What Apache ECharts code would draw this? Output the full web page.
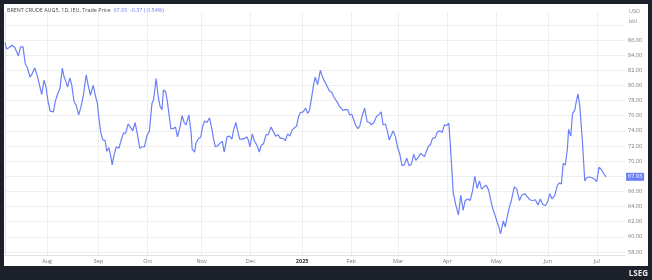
<!DOCTYPE html>
<html><head><meta charset="utf-8">
<script src="https://cdn.jsdelivr.net/npm/echarts@6/dist/echarts.min.js"></script>
<style>
html,body{margin:0;padding:0;background:#1c2029;}
#wrap{position:relative;width:652px;height:280px;background:#1c2029;overflow:hidden;}
#panel{position:absolute;left:4px;top:4px;width:644px;height:262px;background:#fff;}
#c{position:absolute;left:0;top:0;width:652px;height:280px;}
</style>
</head><body>
<div id="wrap"><div id="panel"></div><div id="c"></div></div>
<script>
// trading-day index (from first point) and settlement price, USD/bbl
const dayIdx = [0,0.7,1.8,3,4.2,5,5.7,6.7,7.7,8.7,9.5,10.7,11.7,12.7,13.7,14.7,15.7,16.7,17.5,18.4,19.3,20.1,20.7,21.5,22.4,23.5,24.5,25.2,26,26.8,27.7,28.5,29.5,30.5,31.5,32.5,33.5,34.7,35.5,36.5,37.7,38.6,39.5,40.1,41,41.8,42.8,43.5,44.4,45.1,45.8,46.6,47.6,48.7,49.5,50.6,51.6,52.6,53.6,54.6,55.6,56.6,57.6,58.6,59.6,60.8,61.7,
62.8,63.5,64.6,65.5,66.3,67.1,67.7,68.6,69.4,70.3,70.9,72,72.9,73.7,74.8,75.7,76.6,77.4,78.6,79.5,80,81,81.7,82.7,83.7,84.4,85.3,86.3,87.4,88.4,89.1,89.9,90.8,92,92.9,93.7,94.9,96,97,97.7,98.7,99.6,100.3,101.4,102.4,103.3,104,104.7,105.7,106.7,107.7,108.7,109.5,110.5,111.6,112.5,113.7,114.7,115.7,116.7,117.7,118.8,119.8,120.8,121.8,122.7,123.7,124.6,125.5,
126.2,127.4,128.5,129.4,130.2,131.1,131.9,132.6,133.6,134.8,135.6,136.5,137.7,138.6,139.6,140.5,141.3,142.2,142.8,143.6,144.5,145.4,146.5,147.3,148.2,149,149.8,150.8,151.6,152.6,153.7,154.8,155.8,156.7,157.8,158.8,159.7,160.8,161.6,162.6,163.5,164.2,165,165.9,166.9,167.9,168.7,169.7,170.7,171.7,172.7,173.7,174.7,175.6,176.6,177.6,178.4,179.3,180.1,181,
181.9,182.7,183.9,184.7,185.8,186.9,187.8,188.7,189.7,190.4,191.6,192.7,193.8,194.8,195.8,196.7,197.8,198.8,199.8,200.8,201.8,202.8,203.7,204.7,205.7,206.7,207.5,208.4,209.4,210.4,211.3,211.8,213,213.8,214.7,215.5,216.5,217.7,218.7,219.9,220.9,222.1,223.2,224.3,225.5,226.7,227.8,228.8,229.8,230.9,231.9,232.9,233.8,234.9,236.1,236.9,237.8,238.6,239.5,240.4,240.9,241.8,242.6,243.5,244.2,244.9,245.7,246.8,247.8,248.6,249.8,250.9,252,252.9,253.9,254.9,255.8,256.9];

const price = [85.7,84.8,85.0,85.3,85.0,84.8,83.9,85.1,85.1,82.8,82.4,81.1,81.6,82.3,81.4,80.1,78.8,80.7,79.8,77.9,76.6,76.4,76.5,77.9,78.8,79.6,82.3,81.2,80.5,79.8,81.0,80.1,77.9,77.3,76.1,77.2,78.7,81.4,80.1,78.7,80.0,78.7,77.6,75.7,73.7,72.8,72.7,71.3,71.8,70.8,69.5,70.8,71.9,71.7,72.6,73.7,73.7,74.9,74.5,74.0,75.1,73.5,71.7,71.9,71.9,73.5,73.9,
77.6,78.1,80.9,78.5,77.2,76.8,79.4,79.2,77.9,75.7,74.3,74.3,74.5,73.2,74.5,76.0,75.1,74.8,76.1,73.9,71.6,71.2,72.4,73.0,73.2,74.5,75.3,75.1,75.7,74.3,73.0,71.9,72.0,72.4,72.6,71.2,73.2,73.3,72.9,74.1,75.1,73.8,72.9,72.9,73.0,73.2,72.8,71.9,73.6,72.6,72.1,71.2,72.1,72.3,73.5,73.5,74.5,73.9,73.3,73.5,73.0,73.0,72.7,73.6,73.3,74.1,74.4,74.6,75.9,
76.4,76.5,77.0,76.3,76.8,78.5,80.1,81.1,80.1,82.0,81.2,80.6,79.9,79.3,79.1,78.5,78.6,77.7,77.3,77.5,76.7,76.8,76.8,76.1,76.2,76.0,74.8,74.3,74.6,75.9,77.0,75.2,75.1,74.8,75.2,75.9,76.1,76.5,74.8,74.9,73.9,72.8,72.6,74.0,73.2,71.7,71.0,69.4,69.5,70.4,69.4,69.6,70.9,70.1,70.5,71.0,70.8,70.6,70.8,72.0,
72.2,73.0,73.1,73.8,74.0,73.8,74.8,74.7,75.0,71.9,65.8,64.2,62.9,65.5,63.5,64.8,65.0,64.8,66.0,68.0,66.4,67.4,66.3,66.6,66.8,66.2,65.0,63.8,62.9,61.9,61.1,60.4,62.1,61.3,62.7,63.8,64.9,66.6,66.3,64.8,65.5,65.7,65.3,64.9,64.8,64.9,64.2,65.0,64.3,64.1,64.6,65.7,65.0,65.4,66.8,67.1,67.0,69.7,69.5,71.7,74.2,73.3,76.3,76.7,77.9,78.9,77.2,72.6,67.4,67.8,67.9,67.8,67.6,67.3,69.2,68.9,68.4,67.93];

const monthStartIdx = [18,40,61,84,105,127,148,168,189,210,232,253];
const monthLabels = ['Aug','Sep','Oct','Nov','Dec','2025','Feb','Mar','Apr','May','Jun','Jul'];
const boldLabels = ['2025'];

const titleText = 'BRENT CRUDE AUG5, 1D, IEU, Trade Price';
const lastPrice = '67.93';
const change = '-0.37';
const changePct = '(-0.54%)';
const unitText = 'USD\nbbl';
const brand = 'LSEG';

const FONT = '"Open Sans", "Noto Sans", sans-serif';
const BLUE = '#6b80f8';

const chart = echarts.init(document.getElementById('c'), null, {renderer: 'canvas'});
chart.setOption({
  animation: false,
  backgroundColor: 'transparent',
  textStyle: {fontFamily: FONT},
  title: [
    {
      left: 7, top: 8, padding: 0,
      text: titleText + '  {v|' + lastPrice + '  ' + change + ' ' + changePct + '}',
      textStyle: {fontSize: 5.4, fontWeight: 'normal', color: '#444', fontFamily: FONT,
        rich: {v: {fontSize: 5.4, color: BLUE, fontFamily: FONT}}}
    },
    {
      left: 629, top: 6, padding: 0, text: unitText,
      textStyle: {fontSize: 5.5, lineHeight: 10.6, fontWeight: 'normal', color: '#888', fontFamily: FONT}
    },
    {
      right: 4, top: 270, padding: 0, text: brand,
      textStyle: {fontSize: 8, fontWeight: 'bold', color: '#e8e8e8', fontFamily: FONT}
    }
  ],
  grid: {left: 5, right: 27, top: 12, bottom: 25, containLabel: false, outerBoundsMode: 'none'},
  xAxis: {
    type: 'value', min: 0, max: 265,
    axisLine: {show: true, lineStyle: {color: '#e2e2e2', width: 1}},
    axisTick: {show: false, customValues: monthStartIdx},
    axisLabel: {
      customValues: monthStartIdx, margin: 3.5, fontSize: 5.5, color: '#777', fontFamily: FONT,
      formatter: v => {
        const i = monthStartIdx.indexOf(v);
        const t = i >= 0 ? monthLabels[i] : '';
        return boldLabels.includes(t) ? '{b|' + t + '}' : t;
      },
      rich: {b: {fontWeight: 'bold', color: '#333', fontSize: 5.5, fontFamily: FONT}}
    },
    splitLine: {show: true, lineStyle: {color: '#efefef', width: 1}}
  },
  yAxis: {
    type: 'value', position: 'right', min: 57.6, max: 89.7,
    minInterval: 2, maxInterval: 2, splitNumber: 16, scale: true,
    axisLine: {show: true, lineStyle: {color: '#e2e2e2', width: 1}},
    axisTick: {show: false},
    axisLabel: {
      margin: 3, fontSize: 5.5, color: '#777', fontFamily: FONT,
      formatter: v => (Math.abs(v / 2 - Math.round(v / 2)) < 1e-6 && v <= 86) ? v.toFixed(2) : ''
    },
    splitLine: {show: true, showMinLine: false, showMaxLine: false, lineStyle: {color: '#efefef', width: 1}}
  },
  series: [{
    type: 'line',
    data: dayIdx.map((d, i) => [d, price[i]]),
    showSymbol: false,
    symbol: 'none',
    lineStyle: {color: BLUE, width: 1.2},
    clip: false,
    endLabel: {
      show: true, distance: 20,
      formatter: p => p.value[1].toFixed(2),
      backgroundColor: BLUE, color: '#fff', fontSize: 5.5, fontFamily: FONT,
      padding: [1, 2, 1, 2], lineHeight: 6
    }
  }]
});
</script>
</body></html>
